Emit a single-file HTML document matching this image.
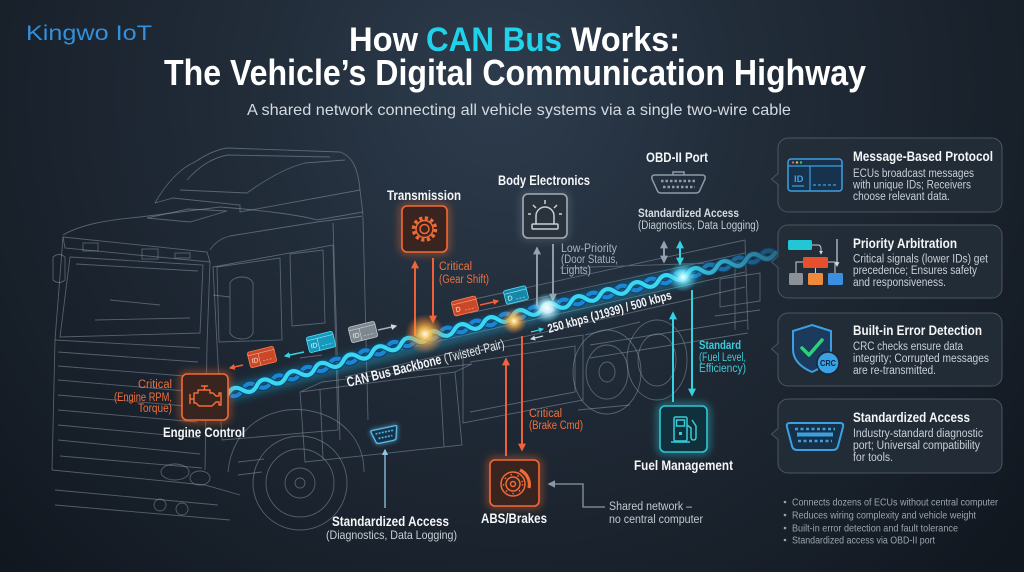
<!DOCTYPE html>
<html><head><meta charset="utf-8"><style>
html,body{margin:0;padding:0;background:#151c25;width:1024px;height:572px;overflow:hidden}
svg{display:block;font-family:"Liberation Sans",Arial,sans-serif}
</style></head><body>
<svg width="1024" height="572" viewBox="0 0 1024 572" xmlns="http://www.w3.org/2000/svg">
<defs>
 <radialGradient id="bg" cx="500" cy="95" r="680" gradientUnits="userSpaceOnUse">
  <stop offset="0" stop-color="#2d3c4d"/>
  <stop offset="0.35" stop-color="#222d3a"/>
  <stop offset="0.75" stop-color="#18202a"/>
  <stop offset="1" stop-color="#11171f"/>
 </radialGradient>
 <radialGradient id="gY"><stop offset="0" stop-color="#fffbe6"/><stop offset="0.3" stop-color="#ffc24d" stop-opacity="0.9"/><stop offset="1" stop-color="#ff6a20" stop-opacity="0"/></radialGradient>
 <radialGradient id="gC"><stop offset="0" stop-color="#ffffff"/><stop offset="0.3" stop-color="#8ff2ff" stop-opacity="0.9"/><stop offset="1" stop-color="#20c8e8" stop-opacity="0"/></radialGradient>
 <radialGradient id="gW"><stop offset="0" stop-color="#ffffff"/><stop offset="0.35" stop-color="#d8f6ff" stop-opacity="0.9"/><stop offset="1" stop-color="#60d8f0" stop-opacity="0"/></radialGradient>
 <linearGradient id="f1" gradientUnits="userSpaceOnUse" x1="0" y1="0" x2="360" y2="0"><stop offset="0" stop-color="#3ad6f2"/><stop offset="0.72" stop-color="#3ad6f2"/><stop offset="1" stop-color="#2a6a88"/></linearGradient>
 <linearGradient id="f2" gradientUnits="userSpaceOnUse" x1="0" y1="0" x2="360" y2="0"><stop offset="0" stop-color="#1d86d4"/><stop offset="0.72" stop-color="#1d86d4"/><stop offset="1" stop-color="#20506e"/></linearGradient>
 <filter id="glow" x="-50%" y="-50%" width="200%" height="200%"><feGaussianBlur stdDeviation="2.5" result="b"/><feMerge><feMergeNode in="b"/><feMergeNode in="SourceGraphic"/></feMerge></filter>
 <filter id="blur4" x="-50%" y="-50%" width="200%" height="200%"><feGaussianBlur stdDeviation="4"/></filter>
 <filter id="blur2" x="-50%" y="-50%" width="200%" height="200%"><feGaussianBlur stdDeviation="2"/></filter>
 <marker id="mO" viewBox="0 0 10 10" refX="8" refY="5" markerWidth="4" markerHeight="4" orient="auto-start-reverse"><path d="M0,0L10,5L0,10z" fill="#f0643a"/></marker>
 <marker id="mG" viewBox="0 0 10 10" refX="8" refY="5" markerWidth="4" markerHeight="4" orient="auto-start-reverse"><path d="M0,0L10,5L0,10z" fill="#95a1ad"/></marker>
 <marker id="mC" viewBox="0 0 10 10" refX="8" refY="5" markerWidth="4" markerHeight="4" orient="auto-start-reverse"><path d="M0,0L10,5L0,10z" fill="#35d2e2"/></marker>
 <marker id="mB" viewBox="0 0 10 10" refX="8" refY="5" markerWidth="5" markerHeight="5" orient="auto-start-reverse"><path d="M0,0L10,5L0,10z" fill="#8ec6e6"/></marker>
 <marker id="mS" viewBox="0 0 10 10" refX="8" refY="5" markerWidth="6" markerHeight="6" orient="auto-start-reverse"><path d="M0,0L10,5L0,10z" fill="#8a98a6"/></marker>
 <marker id="mW" viewBox="0 0 10 10" refX="8" refY="5" markerWidth="4" markerHeight="4" orient="auto-start-reverse"><path d="M0,0L10,5L0,10z" fill="#d0d8e0"/></marker>
</defs>

<rect width="1024" height="572" fill="url(#bg)"/>

<!-- Truck wireframe -->
<g stroke="#8fa0b0" stroke-opacity="0.5" stroke-width="0.9" fill="none">
 <!-- fairing -->
 <path d="M155,203 C165,185 180,168 195,162 C205,155 215,150 227,148 L340,152 C352,156 358,168 360,190 L363,215"/>
 <path d="M155,203 L173,198 L240,205 L240,212 L360,190"/>
 <path d="M180,190 L247,193 C265,180 285,168 305,163 L345,160"/>
 <path d="M187,180 C200,165 215,157 228,155 L330,157"/>
 <path d="M147,218 L188,209 L227,211 L190,222 Z"/>
 <!-- roof / visor -->
 <path d="M63,235 C80,225 105,220 140,217 L220,207 C260,210 300,215 317,220 L363,212"/>
 <path d="M210,250 C215,242 222,238 230,236 L317,222 L363,216"/>
 <path d="M63,237 L207,252 L210,262 L65,248 Z"/>
 <rect x="83" y="243" width="15" height="8"/><rect x="142" y="249" width="16" height="10"/><rect x="175" y="253" width="15" height="5"/>
 <path d="M63,237 L55,340 L52,470"/>
 <path d="M53,257 Q59,252 65,257 L65,280 Q59,285 53,280 Z"/>
 <path d="M70,257 L203,265 L200,333 L60,337 Z"/>
 <path d="M76,264 L198,271 M110,300 L160,305 M95,320 L190,318"/>
 <path d="M210,262 L207,345 L205,470"/>
 <!-- grille -->
 <path d="M55,340 L200,348 M58,352 L198,362 M58,366 L197,377 M58,380 L197,392 M58,395 L197,407 M58,410 L197,422 M58,425 L200,438 M58,440 L200,454 M60,456 L202,468"/>
 <path d="M52,470 L205,485 L240,495 M55,490 L218,505 M55,505 L230,520"/>
 <ellipse cx="175" cy="472" rx="14" ry="8"/><ellipse cx="200" cy="478" rx="10" ry="7"/>
 <circle cx="160" cy="505" r="6"/><circle cx="182" cy="509" r="6"/>
 <!-- side / door -->
 <path d="M213,267 L333,245 L338,430 L222,440 Z"/>
 <path d="M217,267 L280,258 L282,340 L219,342 Z"/>
 <path d="M290,254 L323,250 L325,323 L292,326 Z"/>
 <path d="M333,223 L340,440 M363,217 L368,420"/>
 <path d="M300,358 L322,355"/>
 <path d="M230,283 C234,275 250,275 253,283 L253,333 C250,341 234,341 230,333 Z M213,295 L230,297"/>
 <!-- front wheel -->
 <path d="M228,472 C232,426 270,406 305,410 C342,415 364,440 364,472"/>
 <circle cx="300" cy="483" r="47"/><circle cx="300" cy="483" r="34"/><circle cx="300" cy="483" r="15"/><circle cx="300" cy="483" r="5"/>
 <path d="M238,462 L264,459 M238,475 L262,472"/>
 <!-- tank box -->
 <path d="M300,392 L455,372 L462,445 L305,462 Z M300,392 L322,382 L472,364 L455,372 M320,390 L323,459 M440,375 L444,447"/>
 <!-- frame / bed -->
 <path d="M345,362 L745,272 M345,377 L745,287"/>
 <path d="M463,353 L583,335 L583,400 L463,423 Z M470,362 L575,346 L575,392 L470,412"/>
 <path d="M470,300 L745,240 M470,313 L745,253 M745,240 L748,330 M560,268 L745,262 M590,345 L748,320 M590,358 L748,333"/>
 <path d="M720,279 L760,273 L760,301 L720,307 Z M715,316 L760,310 M735,260 L735,330"/>
 <!-- rear wheels -->
 <ellipse cx="607" cy="372" rx="34" ry="42"/><ellipse cx="607" cy="372" rx="21" ry="27"/><ellipse cx="607" cy="372" rx="8" ry="10"/>
 <ellipse cx="657" cy="360" rx="30" ry="40"/><ellipse cx="657" cy="360" rx="19" ry="26"/>
 <path d="M585,335 L640,322 M578,410 L630,405"/>
</g>

<!-- cable glow -->
<line x1="228" y1="394" x2="700" y2="272" stroke="#1fb6e8" stroke-width="16" stroke-opacity="0.35" filter="url(#blur4)"/>

<!-- Cable segment A -->
<g transform="translate(228,394) rotate(-16.1)" fill="none" stroke-linecap="round">
 <path d="M0,0 Q7.5,8 15,0 T30,0 45,0 60,0 75,0 90,0 105,0 120,0 135,0 150,0 165,0 180,0 195,0 210,0" stroke="#0b3f66" stroke-width="6.5"/>
 <path d="M0,0 Q7.5,8 15,0 T30,0 45,0 60,0 75,0 90,0 105,0 120,0 135,0 150,0 165,0 180,0 195,0 210,0" stroke="#1d86d4" stroke-width="4.2"/>
 <path d="M0,0 Q7.5,-8 15,0 T30,0 45,0 60,0 75,0 90,0 105,0 120,0 135,0 150,0 165,0 180,0 195,0 210,0" stroke="#0d4a70" stroke-width="6.5"/>
 <path d="M0,0 Q7.5,-8 15,0 T30,0 45,0 60,0 75,0 90,0 105,0 120,0 135,0 150,0 165,0 180,0 195,0 210,0" stroke="#3ad6f2" stroke-width="4.2"/>
</g>
<!-- Cable segment B -->
<g transform="translate(425,337) rotate(-13.5)" fill="none" stroke-linecap="round">
 <path d="M0,0 Q7.5,8 15,0 T30,0 45,0 60,0 75,0 90,0 105,0 120,0 135,0 150,0 165,0 180,0 195,0 210,0 225,0 240,0 255,0 270,0 285,0 300,0 315,0 330,0 345,0 360,0" stroke="#0b3f66" stroke-width="6.5" stroke-opacity="0.8"/>
 <path d="M0,0 Q7.5,8 15,0 T30,0 45,0 60,0 75,0 90,0 105,0 120,0 135,0 150,0 165,0 180,0 195,0 210,0 225,0 240,0 255,0 270,0 285,0 300,0 315,0 330,0 345,0 360,0" stroke="url(#f2)" stroke-width="4.2"/>
 <path d="M0,0 Q7.5,-8 15,0 T30,0 45,0 60,0 75,0 90,0 105,0 120,0 135,0 150,0 165,0 180,0 195,0 210,0 225,0 240,0 255,0 270,0 285,0 300,0 315,0 330,0 345,0 360,0" stroke="#0d4a70" stroke-width="6.5" stroke-opacity="0.8"/>
 <path d="M0,0 Q7.5,-8 15,0 T30,0 45,0 60,0 75,0 90,0 105,0 120,0 135,0 150,0 165,0 180,0 195,0 210,0 225,0 240,0 255,0 270,0 285,0 300,0 315,0 330,0 345,0 360,0" stroke="url(#f1)" stroke-width="4.2"/>
</g>

<!-- Vertical connectors -->
<g stroke-width="2" fill="none">
 <line x1="425" y1="252" x2="425" y2="333" stroke="#ffc34d" stroke-width="2.6" filter="url(#glow)"/>
 <line x1="415" y1="336" x2="415" y2="262" stroke="#ef6038" marker-end="url(#mO)"/>
 <line x1="433" y1="258" x2="433" y2="322" stroke="#ef6038" marker-end="url(#mO)"/>

 <line x1="545" y1="238" x2="545" y2="308" stroke="#d6e2ee" stroke-width="1.6" filter="url(#glow)"/>
 <line x1="537" y1="306" x2="537" y2="248" stroke="#8f9ba7" marker-end="url(#mG)"/>
 <line x1="553" y1="244" x2="553" y2="300" stroke="#8f9ba7" marker-end="url(#mG)"/>

 <line x1="664" y1="242" x2="664" y2="262" stroke="#8f9ba7" marker-start="url(#mG)" marker-end="url(#mG)"/>
 <line x1="680" y1="242" x2="680" y2="264" stroke="#35d2e2" marker-start="url(#mC)" marker-end="url(#mC)"/>

 <line x1="683" y1="277" x2="683" y2="406" stroke="#45e2f2" stroke-width="2.6" filter="url(#glow)"/>
 <line x1="673" y1="402" x2="673" y2="313" stroke="#35d2e2" marker-end="url(#mC)"/>
 <line x1="692" y1="290" x2="692" y2="395" stroke="#35d2e2" marker-end="url(#mC)"/>

 <line x1="514" y1="322" x2="514" y2="460" stroke="#ffb84a" stroke-width="2.6" filter="url(#glow)"/>
 <line x1="506" y1="456" x2="506" y2="359" stroke="#ef6038" marker-end="url(#mO)"/>
 <line x1="522" y1="336" x2="522" y2="450" stroke="#ef6038" marker-end="url(#mO)"/>

 <polyline points="605,507 583,507 583,484 549,484" stroke="#8a98a6" stroke-width="1.3" marker-end="url(#mS)"/>
 <line x1="385" y1="508" x2="385" y2="450" stroke="#8ec6e6" stroke-width="1.3" marker-end="url(#mB)"/>

 <line x1="243" y1="365" x2="230" y2="368" stroke="#ef6038" stroke-width="1.5" marker-end="url(#mO)"/>
 <line x1="304" y1="352" x2="285" y2="356" stroke="#35d2e2" stroke-width="1.5" marker-end="url(#mC)"/>
 <line x1="378" y1="330" x2="396" y2="326" stroke="#a8b2bc" stroke-width="1.5" marker-end="url(#mW)"/>
 <line x1="480" y1="305" x2="498" y2="301" stroke="#ef6038" stroke-width="1.5" marker-end="url(#mO)"/>
 <line x1="531" y1="332" x2="543" y2="329" stroke="#35d2e2" stroke-width="1.3" marker-end="url(#mC)"/>
 <line x1="543" y1="336" x2="531" y2="339" stroke="#d0d8e0" stroke-width="1.3" marker-end="url(#mW)"/>
</g>

<!-- Glow points -->
<circle cx="425" cy="334" r="20" fill="url(#gY)"/>
<circle cx="514" cy="321" r="13" fill="url(#gY)"/>
<circle cx="547" cy="308" r="15" fill="url(#gW)"/>
<circle cx="683" cy="277" r="15" fill="url(#gC)"/>

<!-- Boxes glow -->
<g filter="url(#blur4)" fill="none" stroke-width="5" stroke-opacity="0.55">
 <rect x="182" y="374" width="46" height="46" rx="5" stroke="#ff6a2a"/>
 <rect x="402" y="206" width="45" height="46" rx="5" stroke="#ff6a2a"/>
 <rect x="490" y="460" width="49" height="46" rx="5" stroke="#ff6a2a"/>
 <rect x="660" y="406" width="47" height="46" rx="5" stroke="#2fd6e6"/>
 <rect x="523" y="194" width="44" height="44" rx="5" stroke="#a0acb8" stroke-opacity="0.3"/>
</g>
<g stroke-width="1.6">
 <rect x="182" y="374" width="46" height="46" rx="5" fill="#3a2420" stroke="#f26b36"/>
 <rect x="402" y="206" width="45" height="46" rx="5" fill="#3a2420" stroke="#f26b36"/>
 <rect x="490" y="460" width="49" height="46" rx="5" fill="#3a2420" stroke="#f26b36"/>
 <rect x="660" y="406" width="47" height="46" rx="5" fill="#10313b" stroke="#2fc6d6"/>
 <rect x="523" y="194" width="44" height="44" rx="5" fill="#2a323c" stroke="#a0acb8"/>
</g>

<!-- Icons -->
<g stroke="#f26b36" fill="none" stroke-width="1.5" stroke-linejoin="round">
 <path d="M194,393 H198 V390 H210 V393 H213 L216,396 H219 V393 H221 V405 H219 V402 H216 L212,406 H199 L196,403 H194 Z"/>
 <path d="M190,394 V404 M190,399 H194 M201,386 H208 M204.5,386 V390"/>
</g>
<g transform="translate(424.5,229)" stroke="#f26b36" fill="none">
 <circle r="11" stroke-width="3.5" stroke-dasharray="3.2 2.56"/>
 <circle r="8.5" stroke-width="1.5"/>
 <circle r="4.5" stroke-width="1.5"/>
</g>
<g stroke="#f26b36" fill="none" stroke-width="1.5">
 <circle cx="513" cy="484" r="12"/>
 <circle cx="513" cy="484" r="7"/>
 <circle cx="513" cy="484" r="2.5"/>
 <circle cx="513" cy="484" r="9.5" stroke-dasharray="1.5 5.5"/>
 <path d="M520,470 A16,16 0 0 1 529,488" stroke-width="3.2"/>
</g>
<g stroke="#c8d0d8" fill="none" stroke-width="1.5">
 <path d="M536,224 V216 A9,9 0 0 1 554,216 V224"/>
 <rect x="532" y="224" width="26" height="5" rx="1"/>
 <path d="M545,200 V204 M533,205 L536,208 M557,205 L554,208 M528,214 H531 M559,214 H562"/>
</g>
<g stroke="#38ccd9" fill="none" stroke-width="1.5">
 <rect x="674" y="417" width="13" height="24" rx="1.5"/>
 <rect x="676.5" y="420" width="8" height="6"/>
 <path d="M671,442 H690 M687,425 L691,428 V437 Q691,440 693.5,440 Q696,440 696,437 V426 L692,420"/>
 <rect x="679" y="432" width="3" height="3" fill="#38ccd9" stroke="none"/>
</g>
<g stroke="#8f9ba7" fill="none" stroke-width="1.5">
 <path d="M655,175 H702 Q706,175 705,179 L700,190 Q699,193 696,193 H661 Q658,193 657,190 L652,179 Q651,175 655,175 Z"/>
 <path d="M673,175 V172 H684 V175"/>
 <line x1="661" y1="181" x2="697" y2="181" stroke-dasharray="2.5 2" stroke-width="2.5"/>
 <line x1="663" y1="187" x2="695" y2="187" stroke-dasharray="2.5 2" stroke-width="2.5"/>
</g>
<g transform="translate(385,435) rotate(-12)" filter="url(#glow)">
 <path d="M-12,-7 H12 Q14,-7 13,-5 L10,6 Q9,7 7,7 H-7 Q-9,7 -10,6 L-13,-5 Q-14,-7 -12,-7 Z" fill="#15324a" stroke="#5cc0f0" stroke-width="1.3"/>
 <line x1="-9" y1="-3" x2="9" y2="-3" stroke="#5cc0f0" stroke-width="1.6" stroke-dasharray="1.8 1.4"/>
 <line x1="-7" y1="2" x2="7" y2="2" stroke="#5cc0f0" stroke-width="1.6" stroke-dasharray="1.8 1.4"/>
</g>

<!-- Packets -->
<g transform="translate(262,357) rotate(-14)">
 <rect x="-13.5" y="-8" width="27" height="16" rx="2" fill="#c9482a" stroke="#ff7e50" stroke-width="0.8"/>
 <line x1="-13.5" y1="-4.5" x2="13.5" y2="-4.5" stroke="#ffb090" stroke-width="0.6"/>
 <line x1="-3" y1="-4.5" x2="-3" y2="8" stroke="#ffb090" stroke-width="0.6"/>
 <text x="-11" y="4" font-size="7" fill="#ffe0d4">ID</text>
 <line x1="0" y1="4" x2="11" y2="4" stroke="#ffb090" stroke-width="0.6" stroke-dasharray="2 1.5"/>
</g>
<g transform="translate(321,342) rotate(-14)">
 <rect x="-13.5" y="-8" width="27" height="16" rx="2" fill="#1798bd" stroke="#4fe0f5" stroke-width="0.8"/>
 <line x1="-13.5" y1="-4.5" x2="13.5" y2="-4.5" stroke="#a0f0ff" stroke-width="0.6"/>
 <line x1="-3" y1="-4.5" x2="-3" y2="8" stroke="#a0f0ff" stroke-width="0.6"/>
 <text x="-11" y="4" font-size="7" fill="#e0fbff">ID</text>
 <line x1="0" y1="4" x2="11" y2="4" stroke="#a0f0ff" stroke-width="0.6" stroke-dasharray="2 1.5"/>
</g>
<g transform="translate(363,332) rotate(-14)">
 <rect x="-13.5" y="-8" width="27" height="16" rx="2" fill="#7e868e" stroke="#c0c8d0" stroke-width="0.8"/>
 <line x1="-13.5" y1="-4.5" x2="13.5" y2="-4.5" stroke="#d0d6dc" stroke-width="0.6"/>
 <line x1="-3" y1="-4.5" x2="-3" y2="8" stroke="#d0d6dc" stroke-width="0.6"/>
 <text x="-11" y="4" font-size="7" fill="#f0f2f4">ID</text>
 <line x1="0" y1="4" x2="11" y2="4" stroke="#d0d6dc" stroke-width="0.6" stroke-dasharray="2 1.5"/>
</g>
<g transform="translate(465,306) rotate(-14)">
 <rect x="-12.5" y="-7.5" width="25" height="15" rx="2" fill="#c9482a" stroke="#ff7e50" stroke-width="0.8"/>
 <line x1="-12.5" y1="-4" x2="12.5" y2="-4" stroke="#ffb090" stroke-width="0.6"/>
 <text x="-10" y="4" font-size="7" fill="#ffe0d4">D</text>
 <line x1="-1" y1="4" x2="10" y2="4" stroke="#ffb090" stroke-width="0.6" stroke-dasharray="2 1.5"/>
</g>
<g transform="translate(516,295) rotate(-14)">
 <rect x="-11.5" y="-7" width="23" height="14" rx="2" fill="#1687a8" stroke="#4fe0f5" stroke-width="0.8"/>
 <line x1="-11.5" y1="-3.5" x2="11.5" y2="-3.5" stroke="#a0f0ff" stroke-width="0.6"/>
 <text x="-9" y="4" font-size="7" fill="#e0fbff">D</text>
 <line x1="-1" y1="4" x2="9" y2="4" stroke="#a0f0ff" stroke-width="0.6" stroke-dasharray="2 1.5"/>
</g>

<!-- Header -->
<text x="26" y="40" font-size="21" fill="#3390dc" textLength="126" lengthAdjust="spacingAndGlyphs">Kingwo IoT</text>
<g font-weight="bold">
 <text x="349" y="51" font-size="34" fill="#ffffff" textLength="69" lengthAdjust="spacingAndGlyphs">How</text>
 <text x="426" y="51" font-size="34" fill="#22d2ea" textLength="136" lengthAdjust="spacingAndGlyphs">CAN Bus</text>
 <text x="571" y="51" font-size="34" fill="#ffffff" textLength="109" lengthAdjust="spacingAndGlyphs">Works:</text>
 <text x="164" y="85" font-size="36" fill="#ffffff" textLength="702" lengthAdjust="spacingAndGlyphs">The Vehicle’s Digital Communication Highway</text>
</g>
<text x="247" y="115" font-size="16" fill="#d3d9e0" textLength="544" lengthAdjust="spacingAndGlyphs">A shared network connecting all vehicle systems via a single two-wire cable</text>

<!-- Diagram labels -->
<g font-weight="bold" fill="#f4f6f8" font-size="14">
 <text x="387" y="200" textLength="74" lengthAdjust="spacingAndGlyphs">Transmission</text>
 <text x="498" y="185" textLength="92" lengthAdjust="spacingAndGlyphs">Body Electronics</text>
 <text x="646" y="162" textLength="62" lengthAdjust="spacingAndGlyphs">OBD-II Port</text>
 <text x="634" y="470" textLength="99" lengthAdjust="spacingAndGlyphs">Fuel Management</text>
 <text x="481" y="523" textLength="66" lengthAdjust="spacingAndGlyphs">ABS/Brakes</text>
 <text x="163" y="437" textLength="82" lengthAdjust="spacingAndGlyphs">Engine Control</text>
 <text x="332" y="526" font-size="13.5" textLength="117" lengthAdjust="spacingAndGlyphs">Standardized Access</text>
</g>
<g font-size="11.5">
 <text x="439" y="270" fill="#f0703e" textLength="33" lengthAdjust="spacingAndGlyphs">Critical</text>
 <text x="439" y="283" fill="#f0703e" textLength="50" lengthAdjust="spacingAndGlyphs">(Gear Shift)</text>
 <text x="561" y="252" fill="#a9b3bd" textLength="56" lengthAdjust="spacingAndGlyphs">Low-Priority</text>
 <text x="561" y="263" fill="#a9b3bd" textLength="57" lengthAdjust="spacingAndGlyphs">(Door Status,</text>
 <text x="561" y="274" fill="#a9b3bd" textLength="30" lengthAdjust="spacingAndGlyphs">Lights)</text>
 <text x="638" y="217" fill="#d5dbe1" font-weight="bold" textLength="101" lengthAdjust="spacingAndGlyphs">Standardized Access</text>
 <text x="638" y="229" fill="#c3cbd3" textLength="121" lengthAdjust="spacingAndGlyphs">(Diagnostics, Data Logging)</text>
 <text x="699" y="349" fill="#3dcbd8" font-weight="bold" textLength="42" lengthAdjust="spacingAndGlyphs">Standard</text>
 <text x="699" y="361" fill="#3dcbd8" textLength="47" lengthAdjust="spacingAndGlyphs">(Fuel Level,</text>
 <text x="699" y="372" fill="#3dcbd8" textLength="47" lengthAdjust="spacingAndGlyphs">Efficiency)</text>
 <text x="529" y="417" fill="#f0703e" textLength="33" lengthAdjust="spacingAndGlyphs">Critical</text>
 <text x="529" y="429" fill="#f0703e" textLength="54" lengthAdjust="spacingAndGlyphs">(Brake Cmd)</text>
 <text x="609" y="510" fill="#c3c9cf" textLength="83" lengthAdjust="spacingAndGlyphs">Shared network –</text>
 <text x="609" y="523" fill="#c3c9cf" textLength="94" lengthAdjust="spacingAndGlyphs">no central computer</text>
 <text x="138" y="388" fill="#f0703e" textLength="34" lengthAdjust="spacingAndGlyphs">Critical</text>
 <text x="114" y="401" fill="#f0703e" textLength="58" lengthAdjust="spacingAndGlyphs">(Engine RPM,</text>
 <text x="138" y="412" fill="#f0703e" textLength="34" lengthAdjust="spacingAndGlyphs">Torque)</text>
 <text x="326" y="539" font-size="12" fill="#c8d0d8" textLength="131" lengthAdjust="spacingAndGlyphs">(Diagnostics, Data Logging)</text>
</g>
<g transform="translate(348,387) rotate(-14)">
 <text x="0" y="0" font-size="14" font-weight="bold" fill="#f2f5f8" textLength="97" lengthAdjust="spacingAndGlyphs">CAN Bus Backbone</text>
 <text x="100" y="0" font-size="13" fill="#dfe5ea" textLength="62" lengthAdjust="spacingAndGlyphs">(Twisted-Pair)</text>
</g>
<g transform="translate(549,333) rotate(-15.5)">
 <text x="0" y="0" font-size="12.5" font-weight="bold" fill="#f2f5f8" textLength="128" lengthAdjust="spacingAndGlyphs">250 kbps (J1939) / 500 kbps</text>
</g>

<!-- Right cards -->
<g fill="#232d39" fill-opacity="0.9" stroke="#4b5664" stroke-width="1">
 <rect x="778" y="138" width="224" height="74" rx="10"/>
 <rect x="778" y="225" width="224" height="73" rx="10"/>
 <rect x="778" y="313" width="224" height="73" rx="10"/>
 <rect x="778" y="399" width="224" height="74" rx="10"/>
 <path d="M778.5,173 L771.5,179 L778.5,185"/>
 <path d="M778.5,256 L771.5,262 L778.5,268"/>
 <path d="M778.5,343 L771.5,349 L778.5,355"/>
 <path d="M778.5,428 L771.5,434 L778.5,440"/>
</g>
<g fill="#232d39" stroke="none">
 <rect x="778" y="174" width="2" height="10"/><rect x="778" y="257" width="2" height="10"/><rect x="778" y="344" width="2" height="10"/><rect x="778" y="429" width="2" height="10"/>
</g>
<g font-weight="bold" fill="#f4f6f8" font-size="13.5">
 <text x="853" y="161" textLength="140" lengthAdjust="spacingAndGlyphs">Message-Based Protocol</text>
 <text x="853" y="248" textLength="104" lengthAdjust="spacingAndGlyphs">Priority Arbitration</text>
 <text x="853" y="335" textLength="129" lengthAdjust="spacingAndGlyphs">Built-in Error Detection</text>
 <text x="853" y="422" textLength="117" lengthAdjust="spacingAndGlyphs">Standardized Access</text>
</g>
<g fill="#c9cfd6" font-size="11.5">
 <text x="853" y="177" textLength="121" lengthAdjust="spacingAndGlyphs">ECUs broadcast messages</text>
 <text x="853" y="188.5" textLength="118" lengthAdjust="spacingAndGlyphs">with unique IDs; Receivers</text>
 <text x="853" y="200" textLength="97" lengthAdjust="spacingAndGlyphs">choose relevant data.</text>
 <text x="853" y="262.5" textLength="135" lengthAdjust="spacingAndGlyphs">Critical signals (lower IDs) get</text>
 <text x="853" y="274" textLength="124" lengthAdjust="spacingAndGlyphs">precedence; Ensures safety</text>
 <text x="853" y="286" textLength="93" lengthAdjust="spacingAndGlyphs">and responsiveness.</text>
 <text x="853" y="350" textLength="110" lengthAdjust="spacingAndGlyphs">CRC checks ensure data</text>
 <text x="853" y="362" textLength="136" lengthAdjust="spacingAndGlyphs">integrity; Corrupted messages</text>
 <text x="853" y="374" textLength="83" lengthAdjust="spacingAndGlyphs">are re-transmitted.</text>
 <text x="853" y="437" textLength="130" lengthAdjust="spacingAndGlyphs">Industry-standard diagnostic</text>
 <text x="853" y="449" textLength="127" lengthAdjust="spacingAndGlyphs">port; Universal compatibility</text>
 <text x="853" y="461" textLength="40" lengthAdjust="spacingAndGlyphs">for tools.</text>
</g>

<!-- Card icons -->
<rect x="788" y="159" width="54" height="32" rx="3" fill="#17324c" stroke="#3e9fe0" stroke-width="1.5"/>
<line x1="788" y1="166" x2="842" y2="166" stroke="#3e9fe0" stroke-width="1.2"/>
<circle cx="793" cy="162.5" r="1.2" fill="#e85a4a"/><circle cx="797" cy="162.5" r="1.2" fill="#e8c040"/><circle cx="801" cy="162.5" r="1.2" fill="#50c070"/>
<line x1="810" y1="166" x2="810" y2="191" stroke="#3e9fe0" stroke-width="1.2"/>
<text x="794" y="182" font-size="9.5" font-weight="bold" fill="#3e9fe0">ID</text>
<line x1="792" y1="186" x2="804" y2="186" stroke="#3e9fe0" stroke-width="1.2"/>
<line x1="813" y1="185" x2="838" y2="185" stroke="#3e9fe0" stroke-width="1.2" stroke-dasharray="3 2"/>

<rect x="788" y="240" width="24" height="10" rx="1.5" fill="#22c7d6"/>
<path d="M812,245 H818 Q821,245 821,249 V254" stroke="#c8d0d8" stroke-width="1" fill="none" marker-end="url(#mW)"/>
<rect x="803" y="257" width="25" height="11" rx="1.5" fill="#e8502c"/>
<path d="M803,262 H796 V273 M815.5,268 V273 M828,262 H835 V273" stroke="#c8d0d8" stroke-width="1" fill="none"/>
<rect x="789" y="273" width="14" height="12" rx="1.5" fill="#8b9199"/>
<rect x="808" y="273" width="15" height="12" rx="1.5" fill="#ee8a3a"/>
<rect x="828" y="273" width="15" height="12" rx="1.5" fill="#3a8fe0"/>
<line x1="837" y1="239" x2="837" y2="266" stroke="#c8d0d8" stroke-width="1.2" marker-end="url(#mW)"/>

<path d="M812,325 L831,331 V349 Q831,364 812,372 Q793,364 793,349 V331 Z" fill="#1b3a5c" stroke="#3e9fe0" stroke-width="2"/>
<path d="M802,348 L809,355 L822,340" stroke="#2fd07a" stroke-width="3.5" fill="none" stroke-linecap="round" stroke-linejoin="round"/>
<circle cx="828" cy="363" r="11" fill="#3aa2e6" stroke="#1b2633" stroke-width="1.5"/>
<text x="820" y="366" font-size="8" font-weight="bold" fill="#0f2438" textLength="16" lengthAdjust="spacingAndGlyphs">CRC</text>

<path d="M790,423 H840 Q844,423 843,427 L838,446 Q837,450 833,450 H797 Q793,450 792,446 L787,427 Q786,423 790,423 Z" fill="#163048" stroke="#3e9fe0" stroke-width="2"/>
<line x1="795" y1="429" x2="835" y2="429" stroke="#3e9fe0" stroke-width="2.5" stroke-dasharray="3 2.5"/>
<rect x="797" y="432.5" width="36" height="4" fill="#3e9fe0"/>
<line x1="798" y1="441" x2="832" y2="441" stroke="#3e9fe0" stroke-width="2.5" stroke-dasharray="3 2.5"/>

<!-- Bullets -->
<g fill="#9aa4ae">
 <circle cx="785" cy="502" r="1.3"/><circle cx="785" cy="515" r="1.3"/><circle cx="785" cy="528" r="1.3"/><circle cx="785" cy="540" r="1.3"/>
 <g font-size="10">
  <text x="792" y="505.5" textLength="206" lengthAdjust="spacingAndGlyphs">Connects dozens of ECUs without central computer</text>
  <text x="792" y="518.5" textLength="184" lengthAdjust="spacingAndGlyphs">Reduces wiring complexity and vehicle weight</text>
  <text x="792" y="531.5" textLength="166" lengthAdjust="spacingAndGlyphs">Built-in error detection and fault tolerance</text>
  <text x="792" y="543.5" textLength="143" lengthAdjust="spacingAndGlyphs">Standardized access via OBD-II port</text>
 </g>
</g>
</svg>
</body></html>
